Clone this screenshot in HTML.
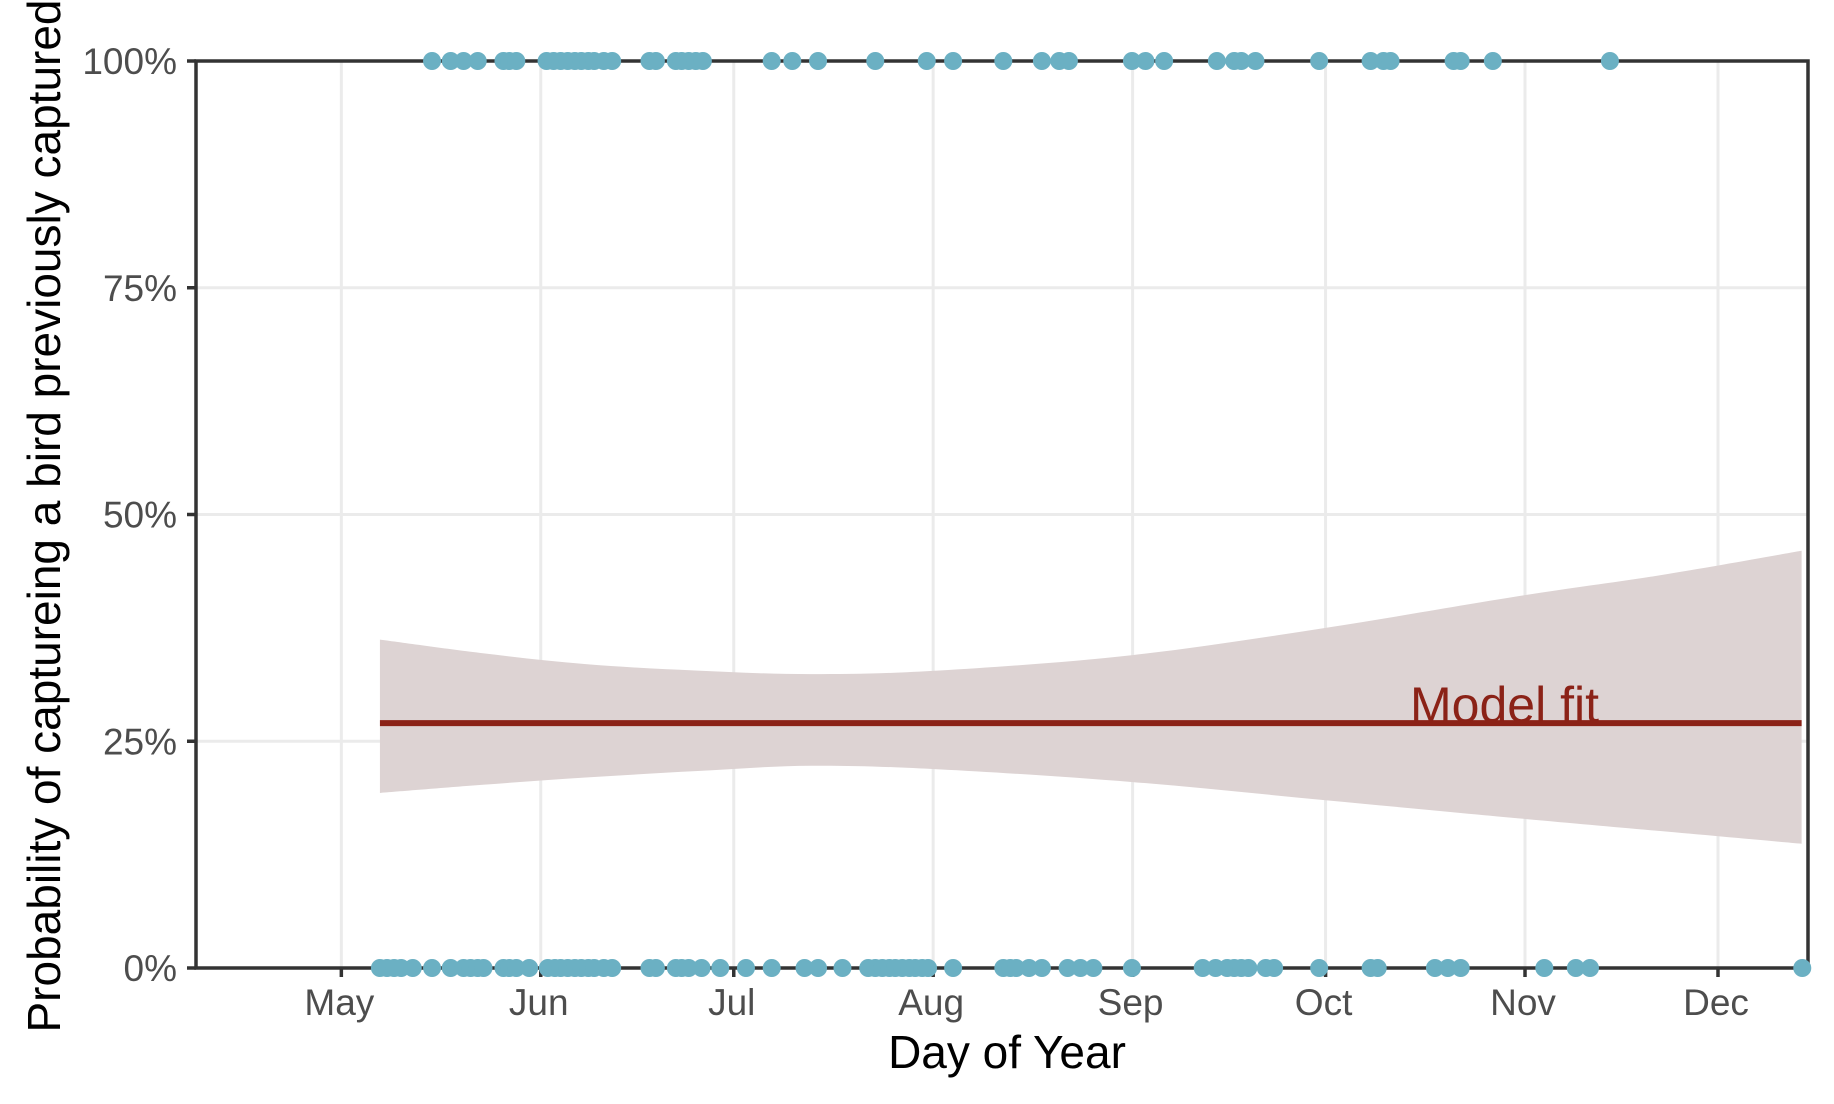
<!DOCTYPE html>
<html><head><meta charset="utf-8"><style>
html,body{margin:0;padding:0;background:#fff;}
svg{display:block;font-family:"Liberation Sans",Arial,sans-serif;}
</style></head><body>
<svg id="chart" width="1834" height="1104" viewBox="0 0 1834 1104" xmlns="http://www.w3.org/2000/svg">
<g id="grid"></g>
<path id="ribbon" fill="#ddd3d3" stroke="none"></path>
<line id="fit" stroke="#8b2217" stroke-width="6"></line>
<text id="fitlabel" x="1410" y="722" font-size="50" fill="#8b2217">Model fit</text>
<g id="axes"></g>
<g id="points"></g>
<text x="1007" y="1068" font-size="46" text-anchor="middle" fill="#000">Day of Year</text>
<text transform="translate(60,516) rotate(-90)" font-size="46" text-anchor="middle" fill="#000">Probability of captureing a bird previously captured</text>
</svg>
<script>
const monthLabels=["May","Jun","Jul","Aug","Sep","Oct","Nov","Dec"];
const monthDays=[121,152,182,213,244,274,305,335];
const yTicks=[0,0.25,0.5,0.75,1];
const yTickLabels=["0%","25%","50%","75%","100%"];
const recapturedDays=[135.1,138.0,140.0,142.2,146.2,147.1,148.2,152.9,154.0,155.1,156.2,157.3,158.3,159.4,160.3,161.8,163.1,168.9,169.9,173.0,173.9,175.0,176.1,177.2,187.9,191.1,195.1,204.0,212.0,216.1,223.9,229.9,232.6,234.1,243.9,246.0,248.9,257.1,259.8,260.9,263.1,273.0,281.0,283.0,284.1,293.9,295.0,300.0,318.2];
const newDays=[127.0,128.1,129.2,130.3,132.1,135.1,138.0,140.0,141.1,142.2,143.1,146.2,147.1,148.2,150.2,153.1,154.2,155.1,156.2,157.3,158.3,159.4,160.3,161.8,163.1,168.9,169.9,173.0,173.9,175.0,177.0,179.9,183.9,187.9,193.0,195.1,198.9,202.9,204.0,205.1,206.2,207.1,208.2,209.3,210.2,211.3,212.2,216.1,223.9,225.0,225.9,227.9,229.9,233.9,235.9,237.9,243.9,254.9,256.9,258.7,259.8,260.9,262.0,264.7,266.0,273.0,281.0,282.1,291.0,293.0,295.0,308.0,312.9,315.1,348.1];
const ribbonDays=[127,143,159,176,194,214,244,274,304,326,348];
const ribbonUpper=[0.362,0.347,0.335,0.328,0.324,0.328,0.345,0.375,0.41,0.433,0.46];
const ribbonLower=[0.193,0.202,0.21,0.217,0.223,0.219,0.205,0.185,0.165,0.151,0.137];
const fitDays=[127,348];
const fitValue=[0.27,0.27];

const L=196,R=1808,T=61,B=968;
const xs=d=>1718+(d-335)*6.433;
const ys=v=>B-(B-T)*v;
const NS="http://www.w3.org/2000/svg";
function mk(tag,attrs,parent){const e=document.createElementNS(NS,tag);for(const k in attrs)e.setAttribute(k,attrs[k]);parent.appendChild(e);return e;}
const grid=document.getElementById('grid'),axes=document.getElementById('axes'),pts=document.getElementById('points');
monthDays.forEach((d,i)=>{
  const g=mk('line',{x1:xs(d),x2:xs(d),y1:T,y2:B,stroke:'#ebebeb','stroke-width':3},grid);
  
  
  const t=mk('line',{x1:xs(d),x2:xs(d),y1:B,y2:B+9,stroke:'#333','stroke-width':3.5},axes);
  
  
  const l=mk('text',{x:xs(d)-2,y:1015,'font-size':37,fill:'#4d4d4d','text-anchor':'middle'},axes);
  l.textContent=monthLabels[i];
  
  
});
yTicks.forEach((v,i)=>{
  const g=mk('line',{x1:L,x2:R,y1:ys(v),y2:ys(v),stroke:'#ebebeb','stroke-width':3},grid);
  
  
  const t=mk('line',{x1:L-9,x2:L,y1:ys(v),y2:ys(v),stroke:'#333','stroke-width':3.5},axes);
  
  
  const l=mk('text',{x:177,y:ys(v)+13,'font-size':37,fill:'#4d4d4d','text-anchor':'end'},axes);
  l.textContent=yTickLabels[i];
  
  
});
const frame=mk('rect',{x:L,y:T,width:R-L,height:B-T,fill:'none',stroke:'#333','stroke-width':3.5},axes);


function smooth(p){let s='';for(let i=0;i<p.length-1;i++){const p0=p[Math.max(i-1,0)],p1=p[i],p2=p[i+1],p3=p[Math.min(i+2,p.length-1)];
 const c1=[p1[0]+(p2[0]-p0[0])/6,p1[1]+(p2[1]-p0[1])/6],c2=[p2[0]-(p3[0]-p1[0])/6,p2[1]-(p3[1]-p1[1])/6];
 s+=` C${c1[0]},${c1[1]} ${c2[0]},${c2[1]} ${p2[0]},${p2[1]}`;}return s;}
const up=ribbonDays.map((d,i)=>[xs(d),ys(ribbonUpper[i])]);
const lo=ribbonDays.map((d,i)=>[xs(d),ys(ribbonLower[i])]).reverse();
document.getElementById('ribbon').setAttribute('d',`M${up[0][0]},${up[0][1]}`+smooth(up)+` L${lo[0][0]},${lo[0][1]}`+smooth(lo)+'Z');
const fit=document.getElementById('fit');
fit.setAttribute('x1',xs(fitDays[0]));fit.setAttribute('x2',xs(fitDays[1]));
fit.setAttribute('y1',ys(fitValue[0]));fit.setAttribute('y2',ys(fitValue[1]));
function dots(arr,v,name){arr.forEach(d=>{
  const c=mk('circle',{cx:xs(d),cy:ys(v),r:9,fill:'#6bb0c3'},pts);
  
  
});}
dots(recapturedDays,1,'recaptured-point');
dots(newDays,0,'new-capture-point');
</script>
</body></html>
